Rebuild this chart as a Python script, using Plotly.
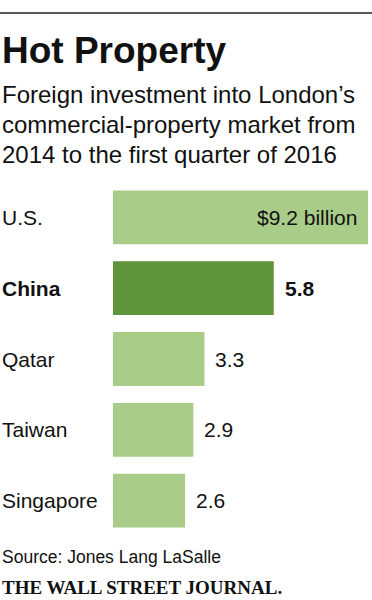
import plotly.graph_objects as go

# ---- data ----
countries = ["U.S.", "China", "Qatar", "Taiwan", "Singapore"]
values = [9.2, 5.8, 3.3, 2.9, 2.6]
value_labels = ["$9.2 billion", "5.8", "3.3", "2.9", "2.6"]
highlight = "China"

title = "Hot Property"
subtitle_lines = ["Foreign investment into London’s",
                  "commercial-property market from",
                  "2014 to the first quarter of 2016"]
source = "Source: Jones Lang LaSalle"
brand = "THE WALL STREET JOURNAL."

# ---- style ----
W, H = 372, 600
ML, MR, MT, MB = 113, 4, 182, 64
PW, PH = W - ML - MR, H - MT - MB
LIGHT, DARK = "#a9cc88", "#5e943a"
INK = "#111111"
FONT = "Liberation Sans"


def px_x(x):
    return (x - ML) / PW


def px_y(y):
    return (H - MB - y) / PH


colors = [DARK if c == highlight else LIGHT for c in countries]

fig = go.Figure(go.Bar(
    x=values, y=countries, orientation="h",
    marker=dict(color=colors, line=dict(width=0)),
    hoverinfo="skip",
))

annotations = []
for c, v, lab in zip(countries, values, value_labels):
    bold = c == highlight
    # category label
    annotations.append(dict(
        x=px_x(0), xref="paper", y=c, yref="y", xanchor="left", yanchor="middle",
        text=f"<b>{c}</b>" if bold else c, showarrow=False,
        font=dict(family=FONT, size=21, color=INK)))
    # value label
    inside = v == max(values)
    annotations.append(dict(
        x=v, xref="x", y=c, yref="y",
        xanchor="right" if inside else "left",
        xshift=-9 if inside else 9, yanchor="middle",
        text=f"<b>{lab}</b>" if bold else lab, showarrow=False,
        font=dict(family=FONT, size=21, color=INK)))

annotations.append(dict(
    x=px_x(0), y=px_y(50), xref="paper", yref="paper", xanchor="left",
    yanchor="middle", text=f"<b>{title}</b>", showarrow=False,
    font=dict(family=FONT, size=37, color=INK)))

for i, line in enumerate(subtitle_lines):
    annotations.append(dict(
        x=px_x(0), y=px_y(79 + 30 * i), xref="paper", yref="paper",
        xanchor="left", yanchor="top", text=line, showarrow=False,
        font=dict(family=FONT, size=24, color=INK)))

annotations += [
    dict(x=px_x(0), y=px_y(557), xref="paper", yref="paper", xanchor="left",
         yanchor="middle", text=source, showarrow=False,
         font=dict(family=FONT, size=17.5, color=INK)),
    dict(x=px_x(0), y=px_y(587), xref="paper", yref="paper", xanchor="left",
         yanchor="middle", text=f"<b>{brand}</b>", showarrow=False,
         font=dict(family="Liberation Serif", size=19, color=INK)),
]

fig.update_layout(
    width=W, height=H,
    margin=dict(l=ML, r=MR, t=MT, b=MB, pad=0),
    paper_bgcolor="white", plot_bgcolor="white",
    bargap=0.24, showlegend=False,
    xaxis=dict(range=[0, max(values)], visible=False, fixedrange=True),
    yaxis=dict(autorange="reversed", visible=False, fixedrange=True),
    annotations=annotations,
    shapes=[dict(type="line", xref="paper", yref="paper",
                 x0=px_x(0), x1=px_x(W), y0=px_y(13), y1=px_y(13),
                 line=dict(color="#222222", width=1.5))],
)

fig.write_html("out.html", config={"displayModeBar": False},
               post_script="document.body.style.margin='0';"
                           "document.body.style.overflow='hidden';")
